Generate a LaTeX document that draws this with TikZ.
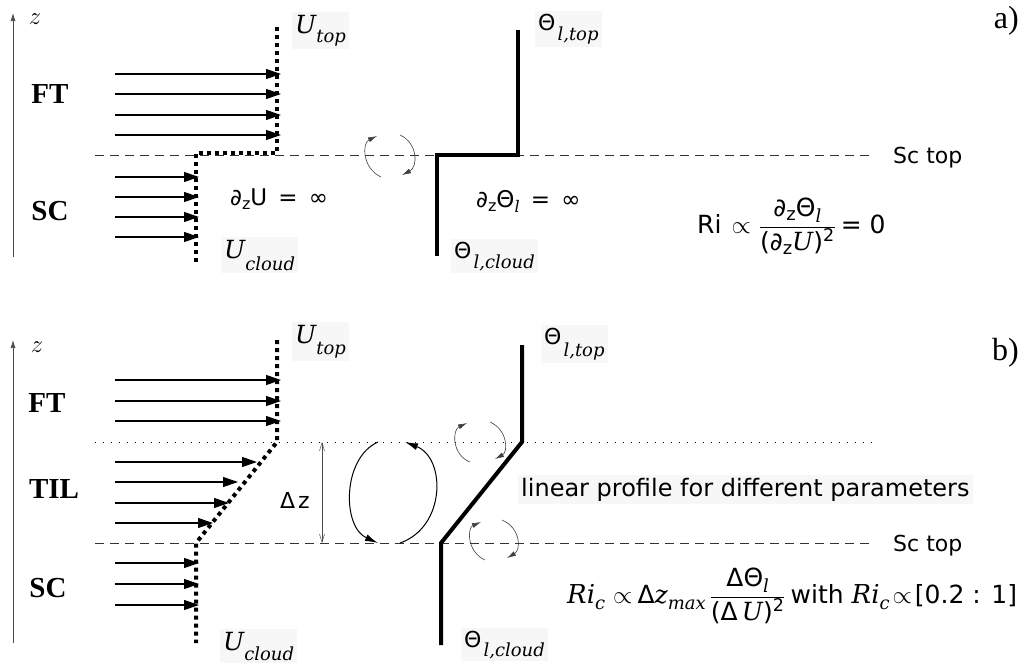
\documentclass[tikz,border=0pt]{standalone}
\usepackage{fontspec}
\usetikzlibrary{arrows.meta}
\setmainfont{DejaVu Sans}
\newfontfamily\dsans{DejaVu Sans}
\newfontfamily\dserif{DejaVu Serif}
\newfontfamily\tnr{Liberation Serif}
\newcommand\fsz[1]{\fontsize{#1}{#1}\selectfont}
\newcommand\ita[1]{{\dserif\itshape #1}}
\newcommand\subt[2][10pt]{\raisebox{-#1}{\fsz{16}#2}}
\newcommand\subs[2][5pt]{\raisebox{-#1}{\fsz{18}#2}}
\tikzset{
  flow/.style={line width=1.1pt, -{Triangle[length=15pt,width=10pt]}},
  uprof/.style={line width=4pt, dash pattern=on 4pt off 4pt},
  tprof/.style={line width=4pt, line join=miter},
  sctop/.style={line width=0.9pt, black!80, dash pattern=on 9pt off 6pt},
  tiltop/.style={line width=0.9pt, dash pattern=on 1.2pt off 6.8pt},
  zaxis/.style={line width=0.7pt, black!70, -{Latex[length=8pt,width=5pt]}},
  eddy/.style={line width=0.6pt, black!75, -{Latex[length=9pt,width=5pt]}},
  bigeddy/.style={line width=1pt, -{Latex[length=13pt,width=7pt]}},
  dz/.style={line width=0.5pt, black!70, {Straight Barb[length=8pt,width=5pt]}-{Straight Barb[length=8pt,width=5pt]}},
  lbl/.style={inner sep=3pt, fill=black!3},
  layer/.style={font=\tnr\bfseries\fsz{29}, inner sep=0pt},
  panel/.style={font=\tnr\fsz{32}, inner sep=0pt},
  txt/.style={inner sep=0pt, font=\dsans\fsz{22}}
}
\begin{document}
\begin{tikzpicture}[x=1pt,y=-1pt]
\useasboundingbox (0,0) rectangle (1028,667);

% ===================== panel a =====================
\coordinate (za0) at (13,257); \coordinate (za1) at (13,13);
\draw[zaxis] (za0) -- (za1);
\node[inner sep=0pt] (zla) at (35,19) {\fsz{27}$z$};
\node[layer] (fta) at (50,94) {FT};
\node[layer] (sca) at (50,211) {SC};

\coordinate (sla0) at (95,155); \coordinate (sla1) at (872,155);
\draw[sctop] (sla0) -- (sla1);
\node[txt, anchor=base west] (sctopa) at (893,163) {Sc top};

% U profile
\coordinate (ua1) at (277,27); \coordinate (ua2) at (277,153);
\coordinate (ua3) at (196,153); \coordinate (ua4) at (196,262);
\draw[uprof] (ua1) -- (ua2) -- (ua3) -- (ua4);
\foreach \y in {74,94,115,135} {
  \coordinate (fs) at (115,\y); \coordinate (fe) at (281,\y);
  \draw[flow] (fs) -- (fe);}
\foreach \y in {177,197,217,237} {
  \coordinate (fs) at (115,\y); \coordinate (fe) at (199,\y);
  \draw[flow] (fs) -- (fe);}
\node[lbl, anchor=base west] (utopa) at (292,33) {\ita{\fsz{25}U\subt[9pt]{\fsz{18}top}}};
\node[lbl, anchor=base west] (uclouda) at (221,258) {\ita{\fsz{25}U\subt[12pt]{\fsz{18}cloud}}};
\node[txt, anchor=base west, font=\dsans\fsz{23}] (dua) at (230,205) {∂\subt[4pt]{z}U\ \,=\ \,∞};

% eddies
\coordinate (ea1) at (381,177); \coordinate (ea2) at (377,136);
\coordinate (ea3) at (400,135); \coordinate (ea4) at (402,175);
\draw[eddy] (ea1) .. controls (362,168) and (362,143) .. (ea2);
\draw[eddy] (ea3) .. controls (418,143) and (418,167) .. (ea4);

% Theta profile
\coordinate (ta1) at (518,30); \coordinate (ta2) at (518,155);
\coordinate (ta3) at (437,155); \coordinate (ta4) at (437,256);
\draw[tprof] (ta1) -- (ta2) -- (ta3) -- (ta4);
\node[lbl, anchor=base west] (ttopa) at (535,30) {\dsans\fsz{22}Θ\hspace{2pt}\ita{\subt[10pt]{\fsz{18}l,top}}};
\node[lbl, anchor=base west] (tclouda) at (451,258) {\dsans\fsz{22}Θ\hspace{2pt}\ita{\subt[10pt]{\fsz{18}l,cloud}}};
\node[txt, anchor=base west, font=\dsans\fsz{23}] (dta) at (476,207) {∂\subt[4pt]{z}Θ\subt[5pt]{\ita{l}}\ \,=\ \,∞};

\node[txt, anchor=west, font=\dsans\fsz{25}] (ria) at (697,226) {Ri\hspace{10pt}$\propto$\hspace{8pt}$\displaystyle\frac{\hbox{\dsans\fsz{25}∂\subs[4pt]{z}Θ\subs[6pt]{\ita{l}}}}{\hbox{\dsans\fsz{25}(∂\subs[4pt]{z}\ita{U})\textsuperscript{2}}}$\hspace{5pt}= 0};

\node[panel, anchor=base east] (pa) at (1019,28) {a)};

% ===================== panel b =====================
\coordinate (zb0) at (13,643); \coordinate (zb1) at (13,340);
\draw[zaxis] (zb0) -- (zb1);
\node[inner sep=0pt] (zlb) at (37,347) {\fsz{27}$z$};
\node[layer] (ftb) at (47,403) {FT};
\node[layer] (tilb) at (54,489) {TIL};
\node[layer] (scb) at (48,588) {SC};

\coordinate (tl0) at (95,442); \coordinate (tl1) at (872,442);
\draw[tiltop] (tl0) -- (tl1);
\coordinate (slb0) at (95,543); \coordinate (slb1) at (872,543);
\draw[sctop] (slb0) -- (slb1);
\node[txt, anchor=base west] (sctopb) at (893,551) {Sc top};

% U profile
\coordinate (ub1) at (277,340); \coordinate (ub2) at (277,442);
\coordinate (ub3) at (196,543); \coordinate (ub4) at (196,643);
\draw[uprof] (ub1) -- (ub2) -- (ub3) -- (ub4);
\foreach \y in {380,401,421} {
  \coordinate (fs) at (115,\y); \coordinate (fe) at (281,\y);
  \draw[flow] (fs) -- (fe);}
\foreach \y/\x in {462/257,482/238,503/229,523/213} {
  \coordinate (fs) at (115,\y); \coordinate (fe) at (\x,\y);
  \draw[flow] (fs) -- (fe);}
\foreach \y in {563,584,605} {
  \coordinate (fs) at (115,\y); \coordinate (fe) at (199,\y);
  \draw[flow] (fs) -- (fe);}
\node[lbl, anchor=base west] (utopb) at (292,343) {\ita{\fsz{25}U\subt[11pt]{\fsz{18}top}}};
\node[lbl, anchor=base west] (ucloudb) at (220,650) {\ita{\fsz{25}U\subt[10pt]{\fsz{18}cloud}}};

% delta z
\coordinate (dz0) at (322,442); \coordinate (dz1) at (322,543);
\draw[dz] (dz0) -- (dz1);
\node[txt, anchor=base west] (dzl) at (280,508) {Δ\hspace{3pt}z};

% big eddy
\coordinate (be1) at (378,442); \coordinate (be2) at (378,543);
\coordinate (be3) at (400,543); \coordinate (be4) at (405,442);
\draw[bigeddy] (be1) .. controls (342,458) and (342,527) .. (be2);
\draw[bigeddy] (be3) .. controls (446,527) and (446,458) .. (be4);

% small eddies
\coordinate (eb1) at (470,462); \coordinate (eb2) at (467,423);
\coordinate (eb3) at (490,422); \coordinate (eb4) at (495,459);
\draw[eddy] (eb1) .. controls (452,455) and (452,430) .. (eb2);
\draw[eddy] (eb3) .. controls (508,430) and (508,452) .. (eb4);
\coordinate (ec1) at (485,560); \coordinate (ec2) at (481,522);
\coordinate (ec3) at (502,520); \coordinate (ec4) at (507,558);
\draw[eddy] (ec1) .. controls (467,552) and (467,528) .. (ec2);
\draw[eddy] (ec3) .. controls (521,528) and (521,550) .. (ec4);

% Theta profile
\coordinate (tb1) at (522,345); \coordinate (tb2) at (522,442);
\coordinate (tb3) at (441,543); \coordinate (tb4) at (441,645);
\draw[tprof] (tb1) -- (tb2) -- (tb3) -- (tb4);
\node[lbl, anchor=base west] (ttopb) at (541,344) {\dsans\fsz{22}Θ\hspace{2pt}\ita{\subt[12pt]{\fsz{18}l,top}}};
\node[lbl, anchor=base west] (tcloudb) at (461,647) {\dsans\fsz{22}Θ\hspace{2pt}\ita{\subt[9pt]{\fsz{18}l,cloud}}};

\node[lbl, txt, fill=black!3, inner sep=3pt, anchor=base west, font=\dsans\fsz{24}] (linb) at (518,496) {linear profile for different parameters};

\node[txt, anchor=west, font=\dsans\fsz{25}] (rib) at (567,596) {\ita{\fsz{26}Ri\subs[6pt]{c}}\hspace{8pt}$\propto$\hspace{5pt}Δ\ita{z\subs[6pt]{max}}\hspace{4pt}$\displaystyle\frac{\hbox{\dsans\fsz{25}ΔΘ\subs[6pt]{\ita{l}}}}{\hbox{\dsans\fsz{25}(Δ\,\ita{U})\textsuperscript{2}}}$\hspace{5pt}with\hspace{8pt}\ita{\fsz{26}Ri\subs[6pt]{c}}\hspace{3pt}$\propto$\hspace{3pt}[0.2 : 1]};

\node[panel, anchor=base east] (pb) at (1019,360) {b)};
\end{tikzpicture}
\end{document}
